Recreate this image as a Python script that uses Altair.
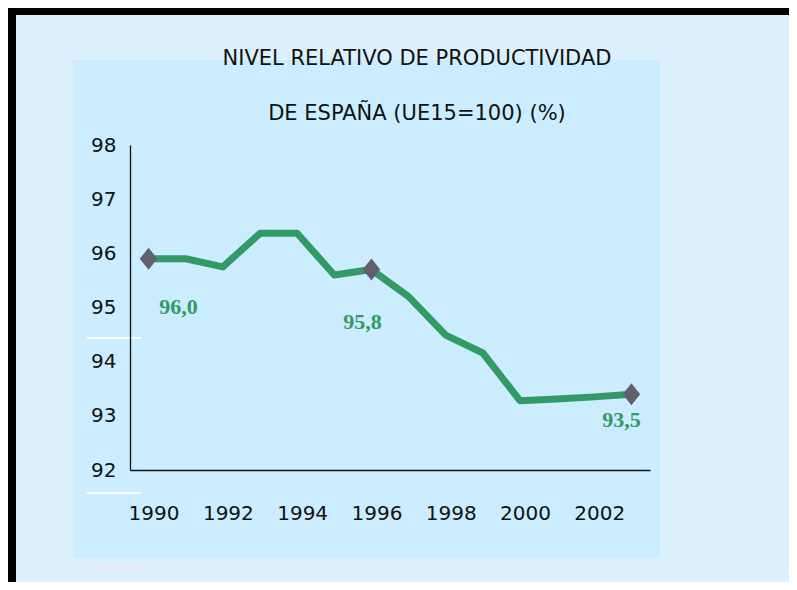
import altair as alt
import pandas as pd

years = [1990, 1991, 1992, 1993, 1994, 1995, 1996, 1997, 1998, 1999, 2000, 2001, 2002, 2003]
values = [95.9, 95.9, 95.75, 96.37, 96.37, 95.6, 95.7, 95.2, 94.49, 94.16, 93.28, 93.31, 93.35, 93.4]

marker_years = [1990, 1996, 2003]
marker_values = [95.9, 95.7, 93.4]
marker_labels = ["96,0", "95,8", "93,5"]

title_lines = ["NIVEL RELATIVO DE PRODUCTIVIDAD", "DE ESPAÑA (UE15=100) (%)"]
x_ticks = [1990, 1992, 1994, 1996, 1998, 2000, 2002]
y_ticks = [92, 93, 94, 95, 96, 97, 98]

df = pd.DataFrame({"year": years, "value": values})
mk = pd.DataFrame({"year": marker_years, "value": marker_values, "label": marker_labels})
one = pd.DataFrame({"a": [0]})

GREEN = "#339966"
FONT = "DejaVu Sans"

xs = alt.Scale(domain=[1989.5, 2003.5], nice=False, zero=False)
ys = alt.Scale(domain=[92, 98], nice=False, zero=False)

x_axis = alt.Axis(values=x_ticks, format="d", grid=False, ticks=False, title=None,
                  domainColor="#111", domainWidth=1.3, labelFont=FONT, labelFontSize=20,
                  labelColor="#111", labelPadding=33, labelOffset=5, zindex=1)
y_axis = alt.Axis(values=y_ticks, format="d", grid=False, ticks=False, title=None,
                  domainColor="#111", domainWidth=1.3, labelFont=FONT, labelFontSize=20,
                  labelColor="#111", labelPadding=14, zindex=1)

panel = alt.Chart(one).mark_rect(color="#ccecff").encode(
    x=alt.value(-57), x2=alt.value(530), y=alt.value(-85), y2=alt.value(413))
top_bar = alt.Chart(one).mark_rect(color="#000000").encode(
    x=alt.value(-122), x2=alt.value(659), y=alt.value(-137), y2=alt.value(-130))
left_bar = alt.Chart(one).mark_rect(color="#000000").encode(
    x=alt.value(-122), x2=alt.value(-114), y=alt.value(-137), y2=alt.value(437))
white1 = alt.Chart(one).mark_rule(color="#ffffff", strokeWidth=2).encode(
    x=alt.value(-43), x2=alt.value(11), y=alt.value(193))
white2 = alt.Chart(one).mark_rule(color="#ffffff", strokeWidth=2).encode(
    x=alt.value(-43), x2=alt.value(11), y=alt.value(348))
white3 = alt.Chart(one).mark_rule(color="#ebe6f2", strokeWidth=2).encode(
    x=alt.value(-43), x2=alt.value(11), y=alt.value(423))

title = alt.Chart(one).mark_text(
    text=title_lines, font=FONT, fontSize=21, color="#111", lineHeight=55,
    align="center", baseline="middle").encode(x=alt.value(287), y=alt.value(-86))

line = alt.Chart(df).mark_line(color=GREEN, strokeWidth=7, strokeJoin="round").encode(
    x=alt.X("year:Q", scale=xs, axis=x_axis),
    y=alt.Y("value:Q", scale=ys, axis=y_axis),
)

diamond = "M0,-1L0.8,0L0,1L-0.8,0Z"
markers = alt.Chart(mk).mark_point(shape=diamond, size=484, filled=True, color="#62606f", opacity=1).encode(
    x=alt.X("year:Q", scale=xs), y=alt.Y("value:Q", scale=ys))

def lab(yr, dx, dy):
    return alt.Chart(mk).transform_filter(alt.datum.year == yr).mark_text(
        font="Liberation Serif", fontSize=22, fontWeight="bold", color=GREEN,
        align="center", baseline="middle", dx=dx, dy=dy).encode(
        x=alt.X("year:Q", scale=xs), y=alt.Y("value:Q", scale=ys), text="label:N")

chart = alt.layer(
    panel, top_bar, left_bar, white1, white2, white3, title, line, markers,
    lab(1990, 30, 48), lab(1996, -9, 52), lab(2003, -10, 26),
).properties(
    width=520, height=325,
    padding={"left": 122, "top": 137, "right": 139, "bottom": 112},
    autosize=alt.AutoSizeParams(type="none"),
    background="#dcf0fd",
).configure_view(stroke=None)

chart.save("out.html", embed_options={"renderer": "svg", "actions": False})
